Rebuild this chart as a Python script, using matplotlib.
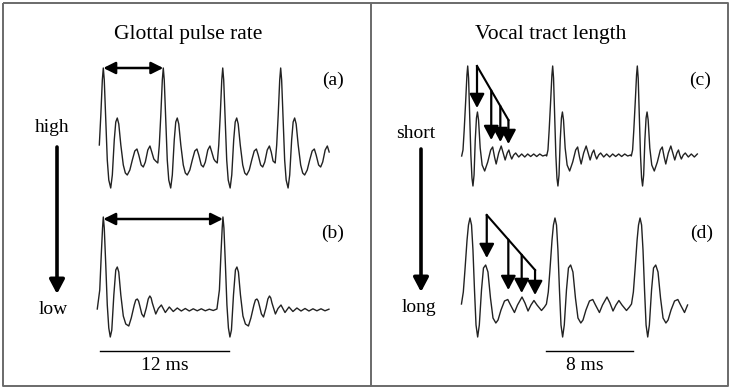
import matplotlib
matplotlib.use('Agg')
import matplotlib.pyplot as plt
import numpy as np

plt.rcParams['font.family'] = ['Liberation Serif', 'DejaVu Serif']

W, H = 731, 388

# one pulse of each trace: time from the main peak (ms) and amplitude (arb. units)
a_pulse_t = [-0.71, -0.51, -0.37, -0.23, -0.09, 0.00, 0.09, 0.23, 0.37, 0.51, 0.69, 0.84,
             1.02, 1.16, 1.30, 1.44, 1.63, 1.86, 2.05, 2.23, 2.47, 2.70, 2.93, 3.13,
             3.30, 3.53, 3.72, 3.91, 4.14, 4.34, 4.51, 4.70, 4.87]
a_pulse_a = [9, 7, 25, 55, 90, 102, 90, 50, 10, -10, -18, -5,
             30, 48, 52, 46, 25, 5, -3, -5, 0, 10, 19, 21,
             15, 5, 3, 8, 20, 24, 18, 11, 9]
a_peaks = [0.0, 5.58, 11.11, 16.50]
a_span = (-0.40, 21.09)

b_pulse_t = [-0.56, -0.33, -0.19, -0.07, 0.00, 0.09, 0.23, 0.37, 0.51, 0.65, 0.79, 0.98,
             1.16, 1.30, 1.44, 1.63, 1.86, 2.09, 2.37, 2.60, 2.88, 3.02, 3.16, 3.28, 3.40, 3.58,
             3.77, 4.00, 4.18, 4.33, 4.45, 4.56, 4.88, 5.12, 5.40, 5.77, 6.14, 6.51, 6.88, 7.26,
             7.63, 8.00, 8.37, 8.74, 9.12, 9.49, 9.86, 10.23, 10.60]
b_pulse_a = [1, 20, 55, 82, 93, 82, 45, 5, -18, -27, -20, 15,
             40, 43, 38, 15, -6, -14, -16, -8, 5, 10, 11, 9, 4, -4,
             -7, 2, 11, 14, 12, 7, -4, 1.5, 5, -2.5, 3, -1.5, 2, -1,
             1.5, -1, 1.2, -0.8, 1.2, -0.8, 0.8, -0.5, 0.5]
b_peaks = [0.0, 11.13]
b_span = (-0.56, 21.18)

c_pulse_t = [-0.55, -0.43, -0.32, -0.18, -0.07, 0.00, 0.08, 0.18, 0.29, 0.39, 0.48, 0.58,
             0.69, 0.80, 0.89, 0.99, 1.14, 1.32, 1.55, 1.83, 2.10, 2.28, 2.45, 2.60,
             2.83, 3.06, 3.24, 3.42, 3.61, 3.76, 3.88, 4.02, 4.20, 4.38, 4.66, 4.93,
             5.21, 5.48, 5.75, 6.03, 6.30, 6.58, 6.85, 7.12]
c_pulse_a = [-1, 5, 25, 55, 80, 89, 77, 40, 0, -23, -31, -20,
             15, 37, 43, 35, 7, -10, -16, -7, 5, 8, -2, -9,
             2, 9, 2, -5, 2, 5, 0, -4, 0, 2, -2, 1,
             -2, 1, -1.5, 1, -1.5, 1, -1, 0]
c_peaks = [0.0, 7.76, 15.49]
c_span = (-0.55, 21.0)

d_pulse_t = [-0.78, -0.61, -0.46, -0.27, -0.14, 0.00, 0.14, 0.27, 0.41, 0.55, 0.70, 0.85,
             1.05, 1.23, 1.43, 1.64, 1.87, 2.10, 2.36, 2.56, 2.83, 3.15, 3.45, 3.70,
             4.06, 4.34, 4.75, 5.02, 5.30, 5.57, 5.84, 6.12, 6.53, 6.80]
d_pulse_a = [1, 13, 35, 65, 80, 87, 80, 55, 15, -20, -32, -20,
             15, 37, 40, 33, 7, -13, -18, -15, -5, 4, 5.5, 0,
             -7.5, 0, 8, 2, -6, 0, 4.5, 0, -5.5, -2]
d_peaks = [0.0, 7.76, 15.53]
d_span = (-0.78, 19.94)

# reflections marked by arrows: time (ms), arrow tip amplitude
c_echo_t = [0.85, 2.15, 2.98, 3.72]
c_echo_tip = [47, 15, 13, 11]
d_echo_t = [1.53, 3.50, 4.72, 5.94]
d_echo_tip = [47, 15, 12, 10]

period_a_ms = 5.58
period_b_ms = 11.13
bar_left_ms = 12
bar_right_ms = 8


def trace(pulse_t, pulse_a, peaks, span):
    pulse_t = np.asarray(pulse_t)
    pulse_a = np.asarray(pulse_a, dtype=float)
    lead = pulse_t[0]
    ts, ys = [], []
    for i, p in enumerate(peaks):
        stop = peaks[i + 1] - p + lead if i + 1 < len(peaks) else span[1] - p + 1e-9
        keep = (pulse_t < stop) & (pulse_t + p >= span[0])
        ts.extend(pulse_t[keep] + p)
        ys.extend(pulse_a[keep])
    return np.array(ts), np.array(ys)


def wave_axes(x0, y0, ppm):
    # full-figure axes: 1 ms = ppm px, 1 amplitude unit = 1 px, first peak at (x0, y0)
    ax = fig.add_axes([0, 0, 1, 1])
    ax.set_xlim(-x0 / ppm, (W - x0) / ppm)
    ax.set_ylim(y0 - H, y0)
    ax.axis('off')
    ax.patch.set_alpha(0)
    return ax


def arrow(ax, x0, y0, x1, y1, lw, hl, hw, both=False):
    style = '<|-|>' if both else '-|>'
    ax.annotate('', xy=(x1, y1), xytext=(x0, y0),
                arrowprops=dict(arrowstyle='%s,head_length=%s,head_width=%s' % (style, hl, hw),
                                mutation_scale=10, lw=lw, color='black',
                                shrinkA=0, shrinkB=0))


fig = plt.figure(figsize=(W / 100, H / 100), dpi=100)
base = fig.add_axes([0, 0, 1, 1])
base.set_xlim(0, W)
base.set_ylim(H, 0)
base.axis('off')

# frame and divider
frame = dict(color='#6a6a6a', lw=1.4, solid_capstyle='butt')
base.plot([3, 728, 728, 3, 3], [3, 3, 386, 386, 3], **frame)
base.plot([371, 371], [3, 386], **frame)

fs_title = 15.5
fs = 14
base.text(188, 35, 'Glottal pulse rate', ha='center', va='center', fontsize=fs_title)
base.text(551, 35, 'Vocal tract length', ha='center', va='center', fontsize=fs_title)
base.text(333, 80, '(a)', ha='center', va='center', fontsize=fs)
base.text(333, 233, '(b)', ha='center', va='center', fontsize=fs)
base.text(700, 80, '(c)', ha='center', va='center', fontsize=fs)
base.text(702, 233, '(d)', ha='center', va='center', fontsize=fs)
base.text(52, 127, 'high', ha='center', va='center', fontsize=fs)
base.text(53, 309, 'low', ha='center', va='center', fontsize=fs)
base.text(416, 133, 'short', ha='center', va='center', fontsize=fs)
base.text(419, 307, 'long', ha='center', va='center', fontsize=fs)
arrow(base, 57, 147, 57, 294, 2.6, 0.85, 0.45)
arrow(base, 421, 149, 421, 292, 2.6, 0.85, 0.45)

wave_style = dict(color='#222222', lw=1.0, solid_joinstyle='round')

ax_a = wave_axes(103.3, 170, 10.75)
ax_a.plot(*trace(a_pulse_t, a_pulse_a, a_peaks, a_span), **wave_style)
arrow(ax_a, 0, 102, period_a_ms, 102, 1.8, 0.72, 0.36, both=True)

ax_b = wave_axes(103.3, 310, 10.75)
ax_b.plot(*trace(b_pulse_t, b_pulse_a, b_peaks, b_span), **wave_style)
arrow(ax_b, 0, 91, period_b_ms, 91, 1.8, 0.72, 0.36, both=True)
ax_b.plot([-0.3, bar_left_ms - 0.3], [-41, -41], color='black', lw=1.0)
ax_b.text(bar_left_ms / 2 - 0.3, -56, '%d ms' % bar_left_ms, ha='center', va='center', fontsize=fs)

ax_c = wave_axes(467.7, 155, 10.95)
ax_c.plot(*trace(c_pulse_t, c_pulse_a, c_peaks, c_span), **wave_style)
c_top = np.interp(c_echo_t, [c_echo_t[0], c_echo_t[-1]], [89, 35])
ax_c.plot([c_echo_t[0], c_echo_t[-1]], [c_top[0], c_top[-1]], color='black', lw=1.5)
for t, y0, y1 in zip(c_echo_t, c_top, c_echo_tip):
    arrow(ax_c, t, y0, t, y1, 1.6, 0.85, 0.45)

ax_d = wave_axes(470, 305, 10.95)
ax_d.plot(*trace(d_pulse_t, d_pulse_a, d_peaks, d_span), **wave_style)
d_top = np.interp(d_echo_t, [d_echo_t[0], d_echo_t[-1]], [90, 35])
ax_d.plot([d_echo_t[0], d_echo_t[-1]], [d_top[0], d_top[-1]], color='black', lw=1.5)
for t, y0, y1 in zip(d_echo_t, d_top, d_echo_tip):
    arrow(ax_d, t, y0, t, y1, 1.6, 0.85, 0.45)
ax_d.plot([d_peaks[1] - 0.85, d_peaks[1] - 0.85 + bar_right_ms], [-46, -46], color='black', lw=1.0)
ax_d.text(d_peaks[1] - 0.85 + bar_right_ms / 2 - 0.4, -61, '%d ms' % bar_right_ms,
          ha='center', va='center', fontsize=fs)

fig.savefig('out.png', dpi=100)
